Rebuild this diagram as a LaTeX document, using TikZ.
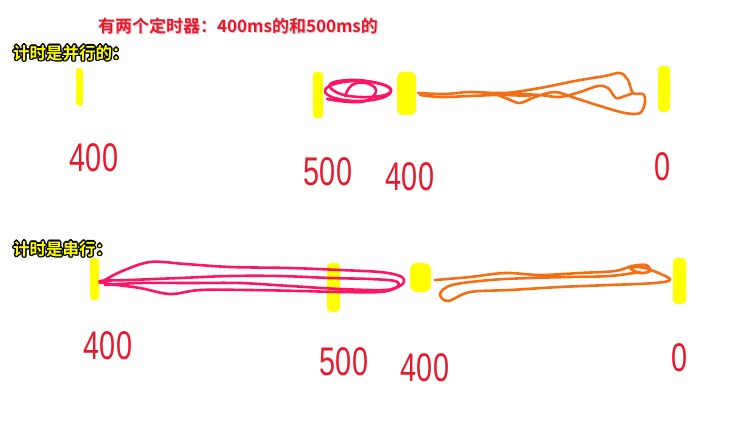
\documentclass[tikz,border=0pt]{standalone}
\usepackage{fontspec}
\newfontfamily\cjk{Noto Sans CJK SC}[BoldFont={Noto Sans CJK SC Bold}]
\newfontfamily\numfont{Liberation Sans}[FakeStretch=0.72]
\definecolor{hlred}{HTML}{E8192C}
\definecolor{scpink}{HTML}{FF1463}
\definecolor{scorange}{HTML}{F56E14}
\definecolor{mkyellow}{HTML}{FFFF00}
\tikzset{
  ymark/.style={fill=mkyellow, draw=none, rounded corners=3pt},
  title/.style={text=hlred, font=\cjk\bfseries\fontsize{17}{19}\selectfont, inner sep=0pt},
  heading/.style={font=\cjk\bfseries\fontsize{16.5}{18}\selectfont, inner sep=0pt, anchor=west},
  num/.style={text=hlred, font=\numfont\fontsize{40}{40}\selectfont, inner sep=0pt},
  pinkline/.style={draw=scpink, line width=2.6pt, line cap=round, line join=round},
  orangeline/.style={draw=scorange, line width=2.6pt, line cap=round, line join=round},
}
\newcommand{\outlined}[3]{%
  \foreach \dx/\dy in {-1/0,1/0,0/-1,0/1,-1/-1,1/1,-1/1,1/-1,-1.5/0,1.5/0,0/1.5,0/-1.5}
    \node[heading, text=black] at ([shift={(\dx,\dy)}]#1) {#3};
  \node[heading, text=mkyellow] (#2) at (#1) {#3};
}
\begin{document}
\begin{tikzpicture}[x=1pt,y=-1pt]
\useasboundingbox (0,0) rectangle (749,422);
\fill[white] (0,0) rectangle (749,422);

% title
\node[title, text=hlred!25] at (239,27) {有两个定时器：400ms的和500ms的};
\node[title] (title) at (238,26) {有两个定时器：400ms的和500ms的};

% headings
\outlined{13,53}{hpar}{计时是并行的：}
\outlined{13,249}{hser}{计时是串行：}

% ---------- row 1 (parallel) ----------
\fill[ymark] (76,68) rectangle (83,106);
\fill[ymark] (313,72) rectangle (323,118);
\fill[ymark, rounded corners=6pt] (397,72) rectangle (416,115);
\fill[ymark, rounded corners=4pt] (658,66) rectangle (670,112);

% pink scribble row 1
\draw[pinkline] (358,91) ellipse [x radius=33, y radius=10];
\draw[pinkline] plot[smooth cycle, tension=0.7] coordinates {(330,84) (350,80) (372,82) (390,88) (385,95) (360,97) (338,93)};
\draw[pinkline] plot[smooth, tension=0.7] coordinates {(345,96) (352,85) (366,83) (376,90) (368,100) (350,102) (327,99)};

% orange scribble row 1
\draw[orangeline] plot[smooth, tension=0.55] coordinates {
 (418,93) (445,94) (470,92) (505,93) (540,88) (575,81) (605,76) (620,73) (628,80) (633,93) (643,94) (645,102) (640,113) (625,113) (600,106) (575,98) (555,92) (535,97) (520,103) (508,99) (495,93) (520,94) (540,95) (560,97) (580,92) (598,86) (608,88) (616,98) (625,96) (633,93)};
\draw[orangeline] plot[smooth, tension=0.6] coordinates {(420,95) (440,97) (470,96) (500,95) (530,96)};

% labels row 1
\node[num] (p400a) at (94,158) {400};
\node[num] (p500) at (328,172) {500};
\node[num] (p400b) at (410,177) {400};
\node[num] (p0) at (662,167) {0};

% ---------- row 2 (serial) ----------
\fill[ymark] (90,258) rectangle (99,300);
\fill[ymark, rounded corners=4pt] (327,263) rectangle (340,312);
\fill[ymark, rounded corners=7pt] (410,263) rectangle (431,292);
\fill[ymark, rounded corners=4pt] (673,258) rectangle (686,304);

% pink scribble row 2
\draw[pinkline] plot[smooth, tension=0.55] coordinates {
 (100,283) (120,272) (150,262) (185,264) (230,267) (290,268) (340,270) (380,272) (400,276) (404,282) (396,288) (380,292) (340,292) (300,291) (250,290) (200,290) (170,294) (140,288) (110,284) (100,281) (130,280) (180,278) (230,276) (280,276) (330,278) (370,279) (395,281) (398,286) (385,290) (340,289) (290,286) (240,283) (190,283) (140,283) (105,285)};

% orange scribble row 2
\draw[orangeline] plot[smooth, tension=0.55] coordinates {
 (435,280) (470,277) (505,273) (540,275) (580,273) (615,271) (632,266) (646,265) (650,271) (640,273) (630,268) (645,268) (670,279) (655,283) (610,285) (560,287) (510,290) (470,292) (448,301) (440,294) (452,285) (490,280) (530,278) (570,277) (610,276) (640,272)};

% labels row 2
\node[num] (s400a) at (108,346) {400};
\node[num] (s500) at (344,362) {500};
\node[num] (s400b) at (425,368) {400};
\node[num] (s0) at (679,358) {0};
\end{tikzpicture}
\end{document}
